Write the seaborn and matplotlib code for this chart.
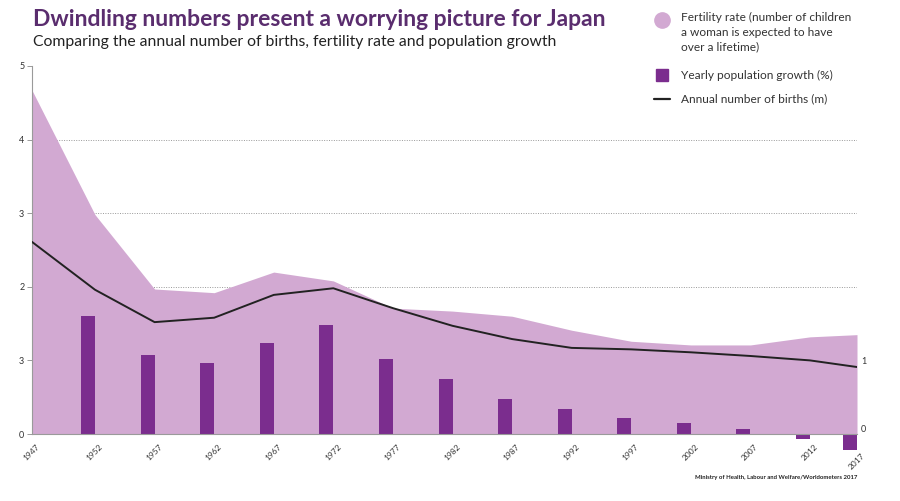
import numpy as np
import pandas as pd
import matplotlib.pyplot as plt
import matplotlib.transforms as mtransforms
import seaborn as sns
from matplotlib.lines import Line2D

sns.set_style("white")
plt.rcParams['font.family'] = ['Lato', 'DejaVu Sans']

# ---------------------------------------------------------
# Data
# ---------------------------------------------------------
YEARS = [1947, 1952, 1957, 1962, 1967, 1972, 1977, 1982, 1987, 1992, 1997, 2002, 2007, 2012, 2017]
FERTILITY = [4.67, 2.98, 1.97, 1.92, 2.20, 2.08, 1.71, 1.67, 1.60, 1.41, 1.26, 1.21, 1.21, 1.32, 1.35]
BIRTHS = [2.61, 1.96, 1.52, 1.58, 1.89, 1.98, 1.71, 1.47, 1.29, 1.17, 1.15, 1.11, 1.06, 1.00, 0.91]
POP_GROWTH = [0.0, 1.60, 1.07, 0.96, 1.24, 1.48, 1.02, 0.75, 0.48, 0.34, 0.22, 0.15, 0.07, -0.07, -0.22]
LEFT_TICKS = [0, 1, 2, 3, 4, 5]
LEFT_LABELS = ['0', '3', '2', '3', '4', '5']
RIGHT_TICKS = [0, 1]

AREA_COLOR = '#d2a9d2'
BAR_COLOR = '#7b2d8e'
TITLE_COLOR = '#5a2d6e'
AXIS_GREY = '#9a9a9a'

# x axis: the end categories are squeezed onto the frame edges,
# everything in between is evenly spaced (pixel offsets from the left spine)
SCALE_YEARS = [1947, 1952, 2012, 2017]
SCALE_PX = [0, 63, 778, 825]
BAR_PX = 14


def fwd(x):
    return np.interp(x, SCALE_YEARS, SCALE_PX, left=-1e3, right=2e3)


def inv(p):
    return np.interp(p, SCALE_PX, SCALE_YEARS, left=1900, right=2100)


df = pd.DataFrame({'year': YEARS, 'fertility': FERTILITY,
                   'births': BIRTHS, 'growth': POP_GROWTH})

fig = plt.figure(figsize=(9, 5.01), dpi=100)
ax = fig.add_axes([32 / 900, 1 - 434 / 501, (857 - 32) / 900, (434 - 66) / 501])
ax.set_xscale('function', functions=(fwd, inv))

# grid lines behind everything
for y in [1, 2, 3, 4]:
    ax.axhline(y, color='#999999', lw=0.7, ls=(0, (1, 1.5)), zorder=0.5)

# fertility area
ax.fill_between(df['year'], 0, df['fertility'], color=AREA_COLOR, lw=0, zorder=1)

# population growth bars (right edge on the year tick)
widths = [-(y - inv(fwd(y) - BAR_PX)) for y in YEARS]
ax.bar(df['year'], df['growth'], width=widths, align='edge', color=BAR_COLOR,
       linewidth=0, zorder=2, clip_on=False)

# births line
sns.lineplot(data=df, x='year', y='births', color='#222222', lw=1.4, ax=ax, zorder=3)

ax.set_xlim(1947, 2017)
ax.set_ylim(0, 5)
ax.set_xlabel('')
ax.set_ylabel('')

ax.set_xticks(YEARS)
ax.set_xticks([], minor=True)
ax.set_xticklabels([str(y) for y in YEARS], rotation=45, ha='right',
                   rotation_mode='anchor', fontsize=6, color='#333333')
ax.set_yticks(LEFT_TICKS)
ax.set_yticklabels(LEFT_LABELS, fontsize=6.5, color='#333333')
ax.tick_params(axis='both', length=3.5, width=0.7, color=AXIS_GREY, pad=2)
ax.tick_params(axis='x', pad=3)

# nudge the year labels right; the last one sits below the negative bar
labels = ax.get_xticklabels()
for i, lab in enumerate(labels):
    dy = -9 / 100 if i == len(labels) - 1 else 0
    lab.set_transform(lab.get_transform() +
                      mtransforms.ScaledTranslation(4 / 100, dy, fig.dpi_scale_trans))

for side in ['top', 'right']:
    ax.spines[side].set_visible(False)
for side in ['left', 'bottom']:
    ax.spines[side].set_color(AXIS_GREY)
    ax.spines[side].set_linewidth(0.8)

# right-hand axis labels
ax2 = ax.twinx()
ax2.set_ylim(0, 5)
ax2.set_yticks(RIGHT_TICKS)
ax2.set_yticklabels(['0', '1'], fontsize=6.5, color='#333333')
ax2.get_yticklabels()[0].set_va('bottom')
ax2.tick_params(axis='y', length=0, pad=3)
for side in ['top', 'right', 'left', 'bottom']:
    ax2.spines[side].set_visible(False)

# titles
fig.text(33 / 900, 1 - 19 / 501, 'Dwindling numbers present a worrying picture for Japan',
         fontsize=16.5, fontweight='bold', color=TITLE_COLOR, va='center', ha='left')
fig.text(33 / 900, 1 - 42 / 501,
         'Comparing the annual number of births, fertility rate and population growth',
         fontsize=11.3, color='#222222', va='center', ha='left')

# manual legend
lx = 662 / 900
tx = 681 / 900
fig.add_artist(Line2D([lx], [1 - 20 / 501], marker='o', markersize=11, color=AREA_COLOR,
                      lw=0, transform=fig.transFigure))
fig.text(tx, 1 - 12 / 501, 'Fertility rate (number of children\na woman is expected to have\nover a lifetime)',
         fontsize=8.6, color='#333333', va='top', ha='left', linespacing=1.4)
fig.add_artist(Line2D([lx], [1 - 75 / 501], marker='s', markersize=9, color=BAR_COLOR,
                      lw=0, transform=fig.transFigure))
fig.text(tx, 1 - 75 / 501, 'Yearly population growth (%)', fontsize=8.6, color='#333333',
         va='center', ha='left')
fig.add_artist(Line2D([lx - 8 / 900, lx + 8 / 900], [1 - 99 / 501, 1 - 99 / 501],
                      color='#222222', lw=1.6, transform=fig.transFigure))
fig.text(tx, 1 - 99 / 501, 'Annual number of births (m)', fontsize=8.6, color='#333333',
         va='center', ha='left')

# source
fig.text(857 / 900, 1 - 478 / 501, 'Ministry of Health, Labour and Welfare/Worldometers 2017',
         fontsize=4.3, fontweight='bold', color='#222222', ha='right', va='center')

fig.savefig('out.png', dpi=100)
